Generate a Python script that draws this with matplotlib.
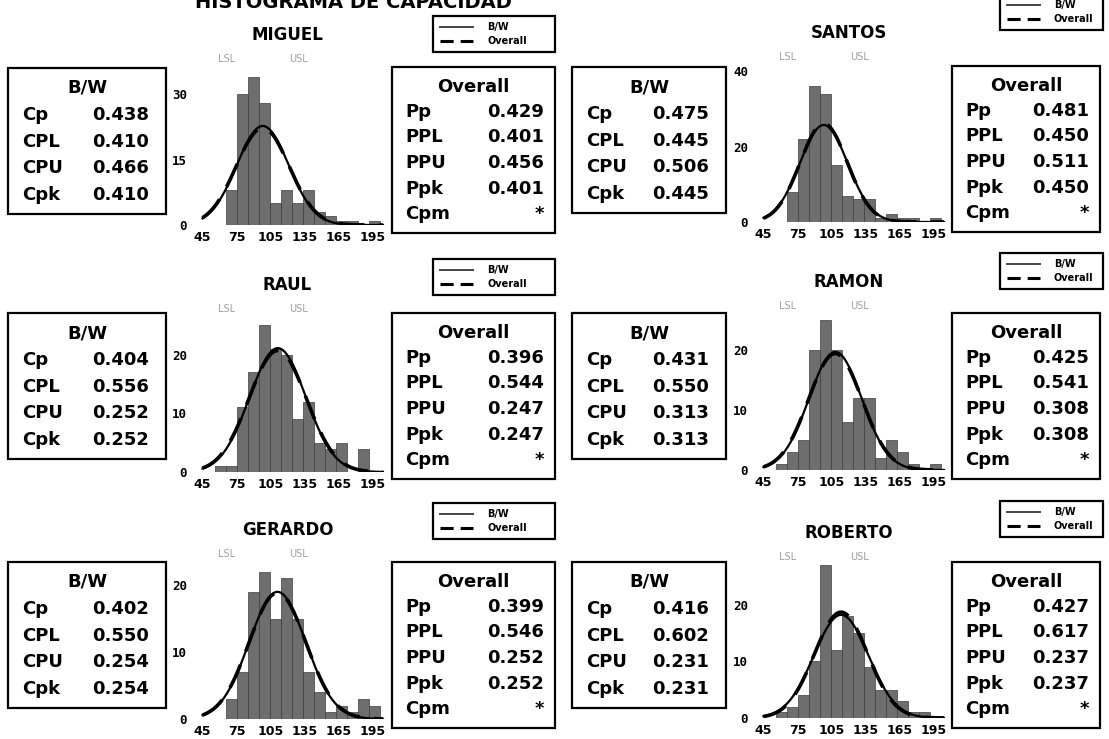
import matplotlib.pyplot as plt
import numpy as np
from matplotlib.patches import Rectangle

W, H = 1109, 739

names = ['MIGUEL', 'SANTOS', 'RAUL', 'RAMON', 'GERARDO', 'ROBERTO']

# histogram bins (left edges) and counts
bin_left = [56.0, 65.7, 75.4, 85.1, 94.8, 104.5, 114.2, 123.9, 133.6, 143.3,
            153.0, 162.7, 172.4, 182.1, 191.8]
bin_width = 9.7
miguel = [0, 8, 30, 34, 28, 5, 8, 5, 8, 3, 2, 1, 1, 0, 1]
santos = [0, 8, 22, 36, 34, 15, 7, 6, 6, 1, 2, 1, 1, 0, 1]
raul = [1, 1, 11, 17, 25, 21, 20, 9, 12, 5, 4, 5, 0, 4, 0]
ramon = [1, 3, 5, 20, 25, 20, 8, 12, 12, 2, 5, 3, 1, 0, 1]
gerardo = [0, 3, 7, 19, 22, 15, 21, 15, 7, 4, 1, 2, 1, 3, 2]
roberto = [1, 2, 4, 10, 27, 12, 18, 15, 9, 5, 5, 3, 1, 1, 0]
counts = [miguel, santos, raul, ramon, gerardo, roberto]

x_ticks = [45, 75, 105, 135, 165, 195]
y_ticks = [[0, 15, 30], [0, 20, 40], [0, 10, 20], [0, 10, 20], [0, 10, 20], [0, 10, 20]]

# spec limits
lsl, usl = 70, 130

# capability stats (within = B/W, overall)
cp = [0.438, 0.475, 0.404, 0.431, 0.402, 0.416]
cpl = [0.410, 0.445, 0.556, 0.550, 0.550, 0.602]
cpu = [0.466, 0.506, 0.252, 0.313, 0.254, 0.231]
cpk = [0.410, 0.445, 0.252, 0.313, 0.254, 0.231]
pp = [0.429, 0.481, 0.396, 0.425, 0.399, 0.427]
ppl = [0.401, 0.450, 0.544, 0.541, 0.546, 0.617]
ppu = [0.456, 0.511, 0.247, 0.308, 0.252, 0.237]
ppk = [0.401, 0.450, 0.247, 0.308, 0.252, 0.237]
cpm = ['*', '*', '*', '*', '*', '*']

fig = plt.figure(figsize=(W / 100, H / 100), dpi=100)
canvas = fig.add_axes([0, 0, 1, 1])
canvas.set_xlim(0, W)
canvas.set_ylim(H, 0)
canvas.axis('off')


def px_axes(x0, y0, x1, y1):
    return fig.add_axes([x0 / W, 1 - y1 / H, (x1 - x0) / W, (y1 - y0) / H])


def box(x0, y0, x1, y1):
    canvas.add_patch(Rectangle((x0, y0), x1 - x0, y1 - y0, fill=False,
                               edgecolor='black', lw=1.6))


# page title, cut off by the top edge as in the scan
canvas.text(195, 8, 'HISTOGRAMA DE CAPACIDAD', fontsize=14, fontweight='bold',
            va='baseline', ha='left')

# layout per panel
col = [0, 1, 0, 1, 0, 1]
x45 = [202.5, 763.5]
sx = 1.135
baseline = [225, 222, 472, 470, 719, 718]
k = [4.36, 3.77, 5.87, 6.0, 6.7, 5.67]
ymax = [36, 40, 27, 27, 24, 29]
title_y = [35, 33, 285, 282, 530, 533]
bw_top = [68, 67, 313, 313, 562, 562]
ov_top = [67, 66, 313, 313, 562, 562]
leg_top = [16, -6, 259, 253, 503, 501]

bw_x = [(8, 166), (572, 726)]
ov_x = [(392, 555), (952, 1100)]
leg_x = [(433, 555), (1000, 1103)]

for i, name in enumerate(names):
    c = col[i]
    # histogram axes
    xl = x45[c] - 5 * sx
    xr = x45[c] + 165 * sx
    yb = baseline[i]
    yt = yb - ymax[i] * k[i]
    ax = px_axes(xl, yt, xr, yb)
    ax.set_facecolor('none')
    ax.bar(bin_left, counts[i], width=bin_width, align='edge', color='#6e6e6e',
           edgecolor='#3c3c3c', lw=0.5)
    n = sum(counts[i])
    xs = np.linspace(45, 204, 200)
    s_w = (usl - lsl) / (6 * cp[i])
    m_w = lsl + 3 * s_w * cpl[i]
    s_o = (usl - lsl) / (6 * pp[i])
    m_o = lsl + 3 * s_o * ppl[i]
    y_w = n * bin_width * np.exp(-0.5 * ((xs - m_w) / s_w) ** 2) / (s_w * np.sqrt(2 * np.pi))
    y_o = n * bin_width * np.exp(-0.5 * ((xs - m_o) / s_o) ** 2) / (s_o * np.sqrt(2 * np.pi))
    ax.plot(xs, y_w, color='black', lw=1.6)
    ax.plot(xs, y_o, color='black', lw=2.6, dashes=(7, 4))
    ax.set_xlim(40, 210)
    ax.set_ylim(0, ymax[i])
    for sp in ax.spines.values():
        sp.set_visible(False)
    ax.set_xticks(x_ticks)
    ax.set_xticklabels([str(t) for t in x_ticks], fontsize=9, fontweight='bold')
    ax.set_yticks(y_ticks[i])
    ax.set_yticklabels([str(t) for t in y_ticks[i]], fontsize=9, fontweight='bold',
                       family='DejaVu Sans Mono')
    ax.tick_params(axis='both', length=0)
    ax.tick_params(axis='x', pad=4)
    ax.tick_params(axis='y', pad=7)

    # title and spec labels
    cx = x45[c] + 75 * sx
    canvas.text(cx, title_y[i], name, fontsize=12, fontweight='bold',
                ha='center', va='center')
    canvas.text(x45[c] + (66 - 45) * sx, title_y[i] + 24, 'LSL', fontsize=7,
                color='#a0a0a0', ha='center', va='center')
    canvas.text(x45[c] + (130 - 45) * sx, title_y[i] + 24, 'USL', fontsize=7,
                color='#a0a0a0', ha='center', va='center')

    # B/W stats box
    bx0, bx1 = bw_x[c]
    by = bw_top[i]
    box(bx0, by, bx1, by + 146)
    canvas.text((bx0 + bx1) / 2, by + 20, 'B/W', fontsize=13, fontweight='bold',
                ha='center', va='center')
    for lab, val, dy in zip(['Cp', 'CPL', 'CPU', 'Cpk'],
                            [cp[i], cpl[i], cpu[i], cpk[i]], [47, 74, 100, 127]):
        canvas.text(bx0 + 14, by + dy, lab, fontsize=13, fontweight='bold',
                    ha='left', va='center')
        canvas.text(bx1 - 17, by + dy, f'{val:.3f}', fontsize=13, fontweight='bold',
                    ha='right', va='center')

    # Overall stats box
    ox0, ox1 = ov_x[c]
    oy = ov_top[i]
    box(ox0, oy, ox1, oy + 166)
    canvas.text((ox0 + ox1) / 2, oy + 20, 'Overall', fontsize=13, fontweight='bold',
                ha='center', va='center')
    for lab, val, dy in zip(['Pp', 'PPL', 'PPU', 'Ppk', 'Cpm'],
                            [f'{pp[i]:.3f}', f'{ppl[i]:.3f}', f'{ppu[i]:.3f}',
                             f'{ppk[i]:.3f}', cpm[i]],
                            [45, 70, 96, 122, 147]):
        canvas.text(ox0 + 13, oy + dy, lab, fontsize=13, fontweight='bold',
                    ha='left', va='center')
        canvas.text(ox1 - 11, oy + dy, val, fontsize=13, fontweight='bold',
                    ha='right', va='center')

    # legend box
    lx0, lx1 = leg_x[c]
    ly = leg_top[i]
    box(lx0, ly, lx1, ly + 36)
    canvas.plot([lx0 + 7, lx0 + 40], [ly + 11, ly + 11], color='#444444', lw=1.4)
    canvas.plot([lx0 + 7, lx0 + 40], [ly + 25, ly + 25], color='black', lw=2.2,
                dashes=(4.3, 2.3))
    canvas.text(lx0 + 54, ly + 11, 'B/W', fontsize=7, fontweight='bold',
                ha='left', va='center')
    canvas.text(lx0 + 54, ly + 25, 'Overall', fontsize=7, fontweight='bold',
                ha='left', va='center')

fig.savefig('out.png', dpi=100)
